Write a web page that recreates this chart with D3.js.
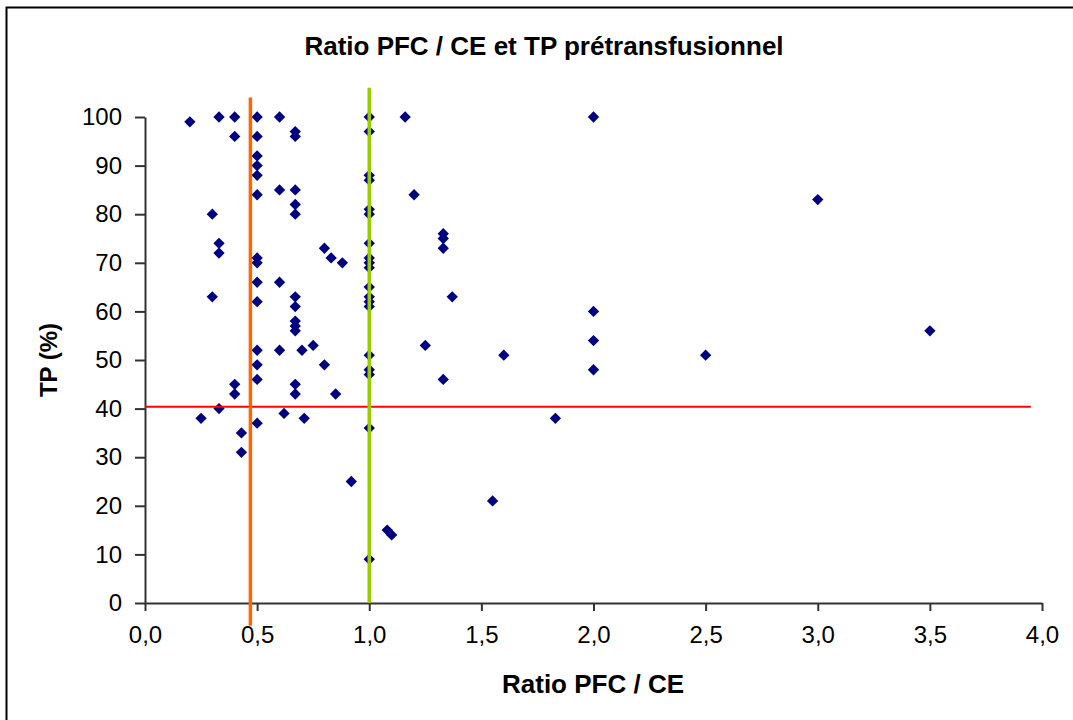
<!DOCTYPE html>
<html>
<head>
<meta charset="utf-8">
<script src="https://cdn.jsdelivr.net/npm/d3@7"></script>
<style>
  body { margin: 0; background: #fff; }
  text { font-family: "Liberation Sans", Arial, sans-serif; }
</style>
</head>
<body>
<svg width="1073" height="720"></svg>
<script>
// data
const ratio = [0.2, 0.33, 0.4, 0.5, 0.6, 0.67, 0.67, 0.4, 0.5,
  0.5, 0.5, 0.5, 0.5, 0.6, 0.67, 0.67, 0.67, 0.3,
  0.33, 0.33, 0.5, 0.5, 0.5, 0.6, 0.3, 0.5, 0.67, 0.67,
  0.67, 0.67, 0.67, 0.5, 0.6, 0.7, 0.75, 0.8, 0.5, 0.5,
  0.4, 0.4, 0.67, 0.67, 0.33, 0.25, 0.62, 0.71, 0.5, 0.43, 0.43,
  1, 1, 1.16, 1, 1, 1.2, 1, 1, 1.33, 1.33, 1.33, 1, 1, 1, 1, 0.8, 0.83, 0.88,
  1, 1, 1, 1, 1.37, 1.25, 1, 1, 1, 1.33, 1.6, 0.85, 1,
  0.92, 1.08, 1.1, 1, 1.55,
  2, 2, 2, 2, 1.83, 2.5, 3, 3.5];
const tp = [99, 100, 100, 100, 100, 97, 96, 96, 96,
  92, 90, 88, 84, 85, 85, 82, 80, 80,
  74, 72, 71, 70, 66, 66, 63, 62, 63, 61,
  58, 57, 56, 52, 52, 52, 53, 49, 49, 46,
  45, 43, 45, 43, 40, 38, 39, 38, 37, 35, 31,
  100, 97, 100, 88, 87, 84, 81, 80, 76, 75, 73, 74, 71, 70, 69, 73, 71, 70,
  65, 63, 62, 61, 63, 53, 51, 48, 47, 46, 51, 43, 36,
  25, 15, 14, 9, 21,
  100, 60, 54, 48, 38, 51, 83, 56];

const xTicks = [0, 0.5, 1, 1.5, 2, 2.5, 3, 3.5, 4];
const yTicks = [0, 10, 20, 30, 40, 50, 60, 70, 80, 90, 100];

// reference lines (drawn on top of the plot)
const orangeLine = [[0.47, -4.7], [0.47, 104]];
const greenLine = [[1, 0], [1, 106]];
const redLine = [[0, 40.4], [3.95, 40.4]];

const svg = d3.select("svg");

// outer frame (only top and left show)
svg.append("rect")
  .attr("x", 6.5).attr("y", 7.5)
  .attr("width", 1080).attr("height", 730)
  .attr("fill", "none").attr("stroke", "#000").attr("stroke-width", 2);

const x = d3.scaleLinear().domain([0, 4]).range([145, 1042]);
const y = d3.scaleLinear().domain([0, 100]).range([603, 117]);

const fmt = d => d3.format(".1f")(d).replace(".", ",");

const xAxis = svg.append("g")
  .attr("transform", "translate(0,603)")
  .call(d3.axisBottom(x).tickValues(xTicks).tickFormat(fmt).tickSize(8).tickSizeOuter(0).tickPadding(15));
const yAxis = svg.append("g")
  .attr("transform", "translate(145,0)")
  .call(d3.axisLeft(y).tickValues(yTicks).tickSize(10).tickSizeOuter(0).tickPadding(13));

[xAxis, yAxis].forEach(a => {
  a.select(".domain").attr("stroke", "#333").attr("stroke-width", 2);
  a.selectAll(".tick line").attr("stroke", "#333").attr("stroke-width", 2);
  a.selectAll(".tick text").attr("fill", "#000")
    .style("font-family", "Liberation Sans, Arial, sans-serif")
    .style("font-size", "24px");
});

// points
svg.append("g")
  .selectAll("path")
  .data(ratio.map((r, i) => [r, tp[i]]))
  .join("path")
    .attr("d", d3.symbol(d3.symbolSquare, 64))
    .attr("transform", d => "translate(" + x(d[0]) + "," + y(d[1]) + ") rotate(45)")
    .attr("fill", "#000080");

const line = d3.line().x(d => x(d[0])).y(d => y(d[1]));
svg.append("path").attr("d", line(redLine)).attr("stroke", "#ff0000").attr("stroke-width", 2).attr("fill", "none");
svg.append("path").attr("d", line(orangeLine)).attr("stroke", "#ff6600").attr("stroke-width", 3.5).attr("fill", "none");
svg.append("path").attr("d", line(greenLine)).attr("stroke", "#99cc00").attr("stroke-width", 3.5).attr("fill", "none");

// titles
svg.append("text")
  .attr("x", 544).attr("y", 55)
  .attr("text-anchor", "middle")
  .style("font-size", "26px").style("font-weight", "bold")
  .text("Ratio PFC / CE et TP prétransfusionnel");

svg.append("text")
  .attr("x", 593).attr("y", 693)
  .attr("text-anchor", "middle")
  .style("font-size", "26px").style("font-weight", "bold")
  .text("Ratio PFC / CE");

svg.append("text")
  .attr("transform", "translate(57,360) rotate(-90)")
  .attr("text-anchor", "middle")
  .style("font-size", "24px").style("font-weight", "bold")
  .text("TP (%)");
</script>
</body>
</html>
